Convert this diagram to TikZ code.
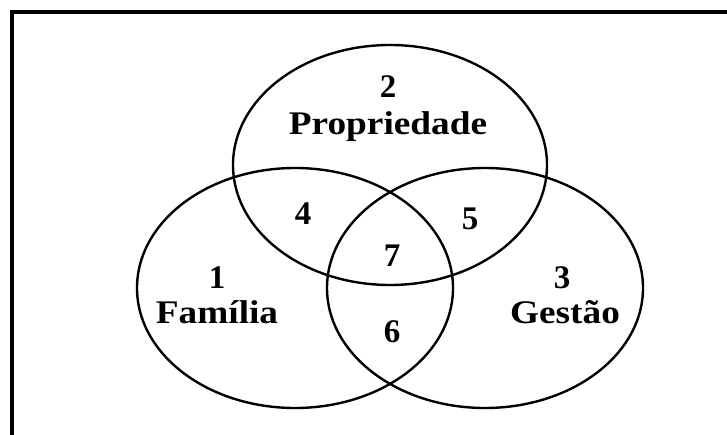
\documentclass[tikz,border=0pt]{standalone}
\usepackage{fontspec}
\setmainfont{Liberation Serif}
\begin{document}
\begin{tikzpicture}[x=1pt,y=-1pt,
  setring/.style={draw=black,line width=2.4pt},
  lbl/.style={inner sep=0pt,anchor=base,font=\bfseries\fontsize{33}{36}\selectfont},
  wide/.style={lbl},
]
\useasboundingbox (0,0) rectangle (727,435);
\fill[white] (0,0) rectangle (727,435);
% outer frame, running off the right and bottom edges
\begin{scope}
\clip (0,0) rectangle (727,435);
\draw[line width=4.5pt] (12,470) -- (12,12) -- (760,12);
\end{scope}
% the three sets
\draw[setring] (390,165) ellipse [x radius=157, y radius=120];
\draw[setring] (295,288) ellipse [x radius=158, y radius=120];
\draw[setring] (485,288) ellipse [x radius=158, y radius=120];
% set names
\node[lbl] (n2) at (388,98) {2};
\node[wide] (prop) at (388,135) {\scalebox{1.13}[1]{Propriedade}};
\node[lbl] (n1) at (217,288) {1};
\node[wide] (fam) at (217,323) {\scalebox{1.13}[1]{Família}};
\node[lbl] (n3) at (562,288) {3};
\node[wide] (ges) at (565,323) {\scalebox{1.13}[1]{Gestão}};
% overlap regions
\node[lbl] (n4) at (303,225) {4};
\node[lbl] (n5) at (470,230) {5};
\node[lbl] (n7) at (392,267) {7};
\node[lbl] (n6) at (392,342) {6};
\end{tikzpicture}
\end{document}
